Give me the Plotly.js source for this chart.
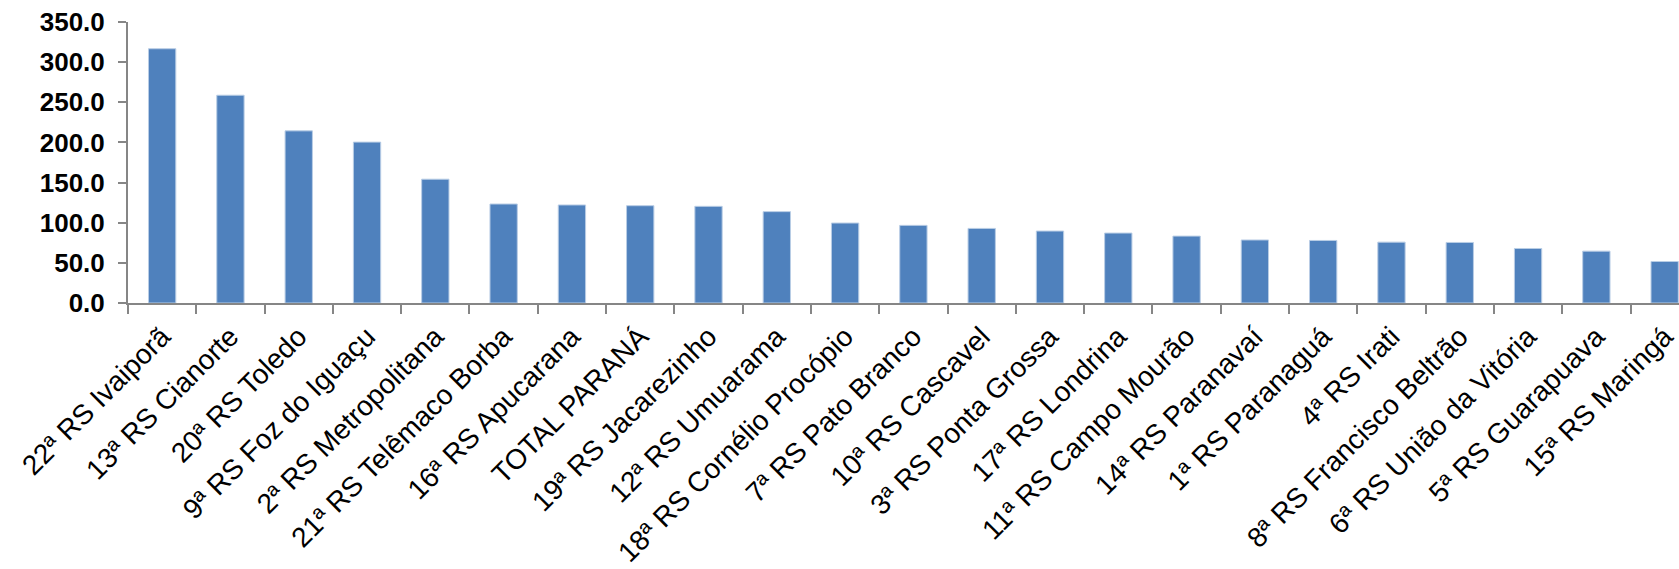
<!DOCTYPE html>
<html>
<head>
<meta charset="utf-8">
<script src="https://cdn.plot.ly/plotly-3.0.1.min.js"></script>
<style>html,body{margin:0;padding:0;background:#fff;}#chart{width:1679px;height:569px;}</style>
</head>
<body>
<div id="chart"></div>
<script>
var categories = [
  "22ª RS Ivaiporã", "13ª RS Cianorte", "20ª RS Toledo", "9ª RS Foz do Iguaçu",
  "2ª RS Metropolitana", "21ª RS Telêmaco Borba", "16ª RS Apucarana", "TOTAL PARANÁ",
  "19ª RS Jacarezinho", "12ª RS Umuarama", "18ª RS Cornélio Procópio", "7ª RS Pato Branco",
  "10ª RS Cascavel", "3ª RS Ponta Grossa", "17ª RS Londrina", "11ª RS Campo Mourão",
  "14ª RS Paranavaí", "1ª RS Paranaguá", "4ª RS Irati", "8ª RS Francisco Beltrão",
  "6ª RS União da Vitória", "5ª RS Guarapuava", "15ª RS Maringá"
];
var values = [
  316.7, 258.8, 214.4, 200.4,
  154.2, 123.3, 122.1, 121.2,
  120.4, 113.8, 99.6, 96.7,
  92.9, 89.6, 87.1, 83.3,
  78.5, 77.9, 75.8, 75.4,
  67.9, 64.6, 51.7
];
var yTickValues = [0, 50, 100, 150, 200, 250, 300, 350];

var trace = {
  type: 'bar',
  x: categories,
  y: values,
  width: 0.4,
  marker: {color: '#4F81BD', line: {color: '#B9CDE5', width: 1}},
  hoverinfo: 'x+y'
};

var layout = {
  width: 1679,
  height: 569,
  margin: {l: 128, r: 0, t: 22, b: 266, pad: 0},
  paper_bgcolor: '#ffffff',
  plot_bgcolor: '#ffffff',
  showlegend: false,
  bargap: 0.6,
  xaxis: {
    type: 'category',
    range: [-0.5, 22.21],
    tickangle: -45,
    ticks: 'outside',
    tickson: 'boundaries',
    ticklen: 9,
    tickwidth: 2,
    tickcolor: '#868686',
    ticklabelstandoff: 4,
    showline: true,
    linecolor: '#868686',
    linewidth: 2,
    showgrid: false,
    zeroline: false,
    tickfont: {family: 'Liberation Sans, Arial, sans-serif', size: 28, color: '#000000'},
    automargin: false
  },
  yaxis: {
    range: [0, 350],
    tickvals: yTickValues,
    tickformat: '.1f',
    ticks: 'outside',
    ticklen: 8,
    tickwidth: 2,
    tickcolor: '#868686',
    ticklabelstandoff: 8,
    showline: true,
    linecolor: '#868686',
    linewidth: 2,
    showgrid: false,
    zeroline: false,
    tickfont: {family: 'Liberation Sans, Arial, sans-serif', size: 26, color: '#000000', weight: 700},
    automargin: false
  }
};

Plotly.newPlot('chart', [trace], layout, {displayModeBar: false, staticPlot: true});
</script>
</body>
</html>
